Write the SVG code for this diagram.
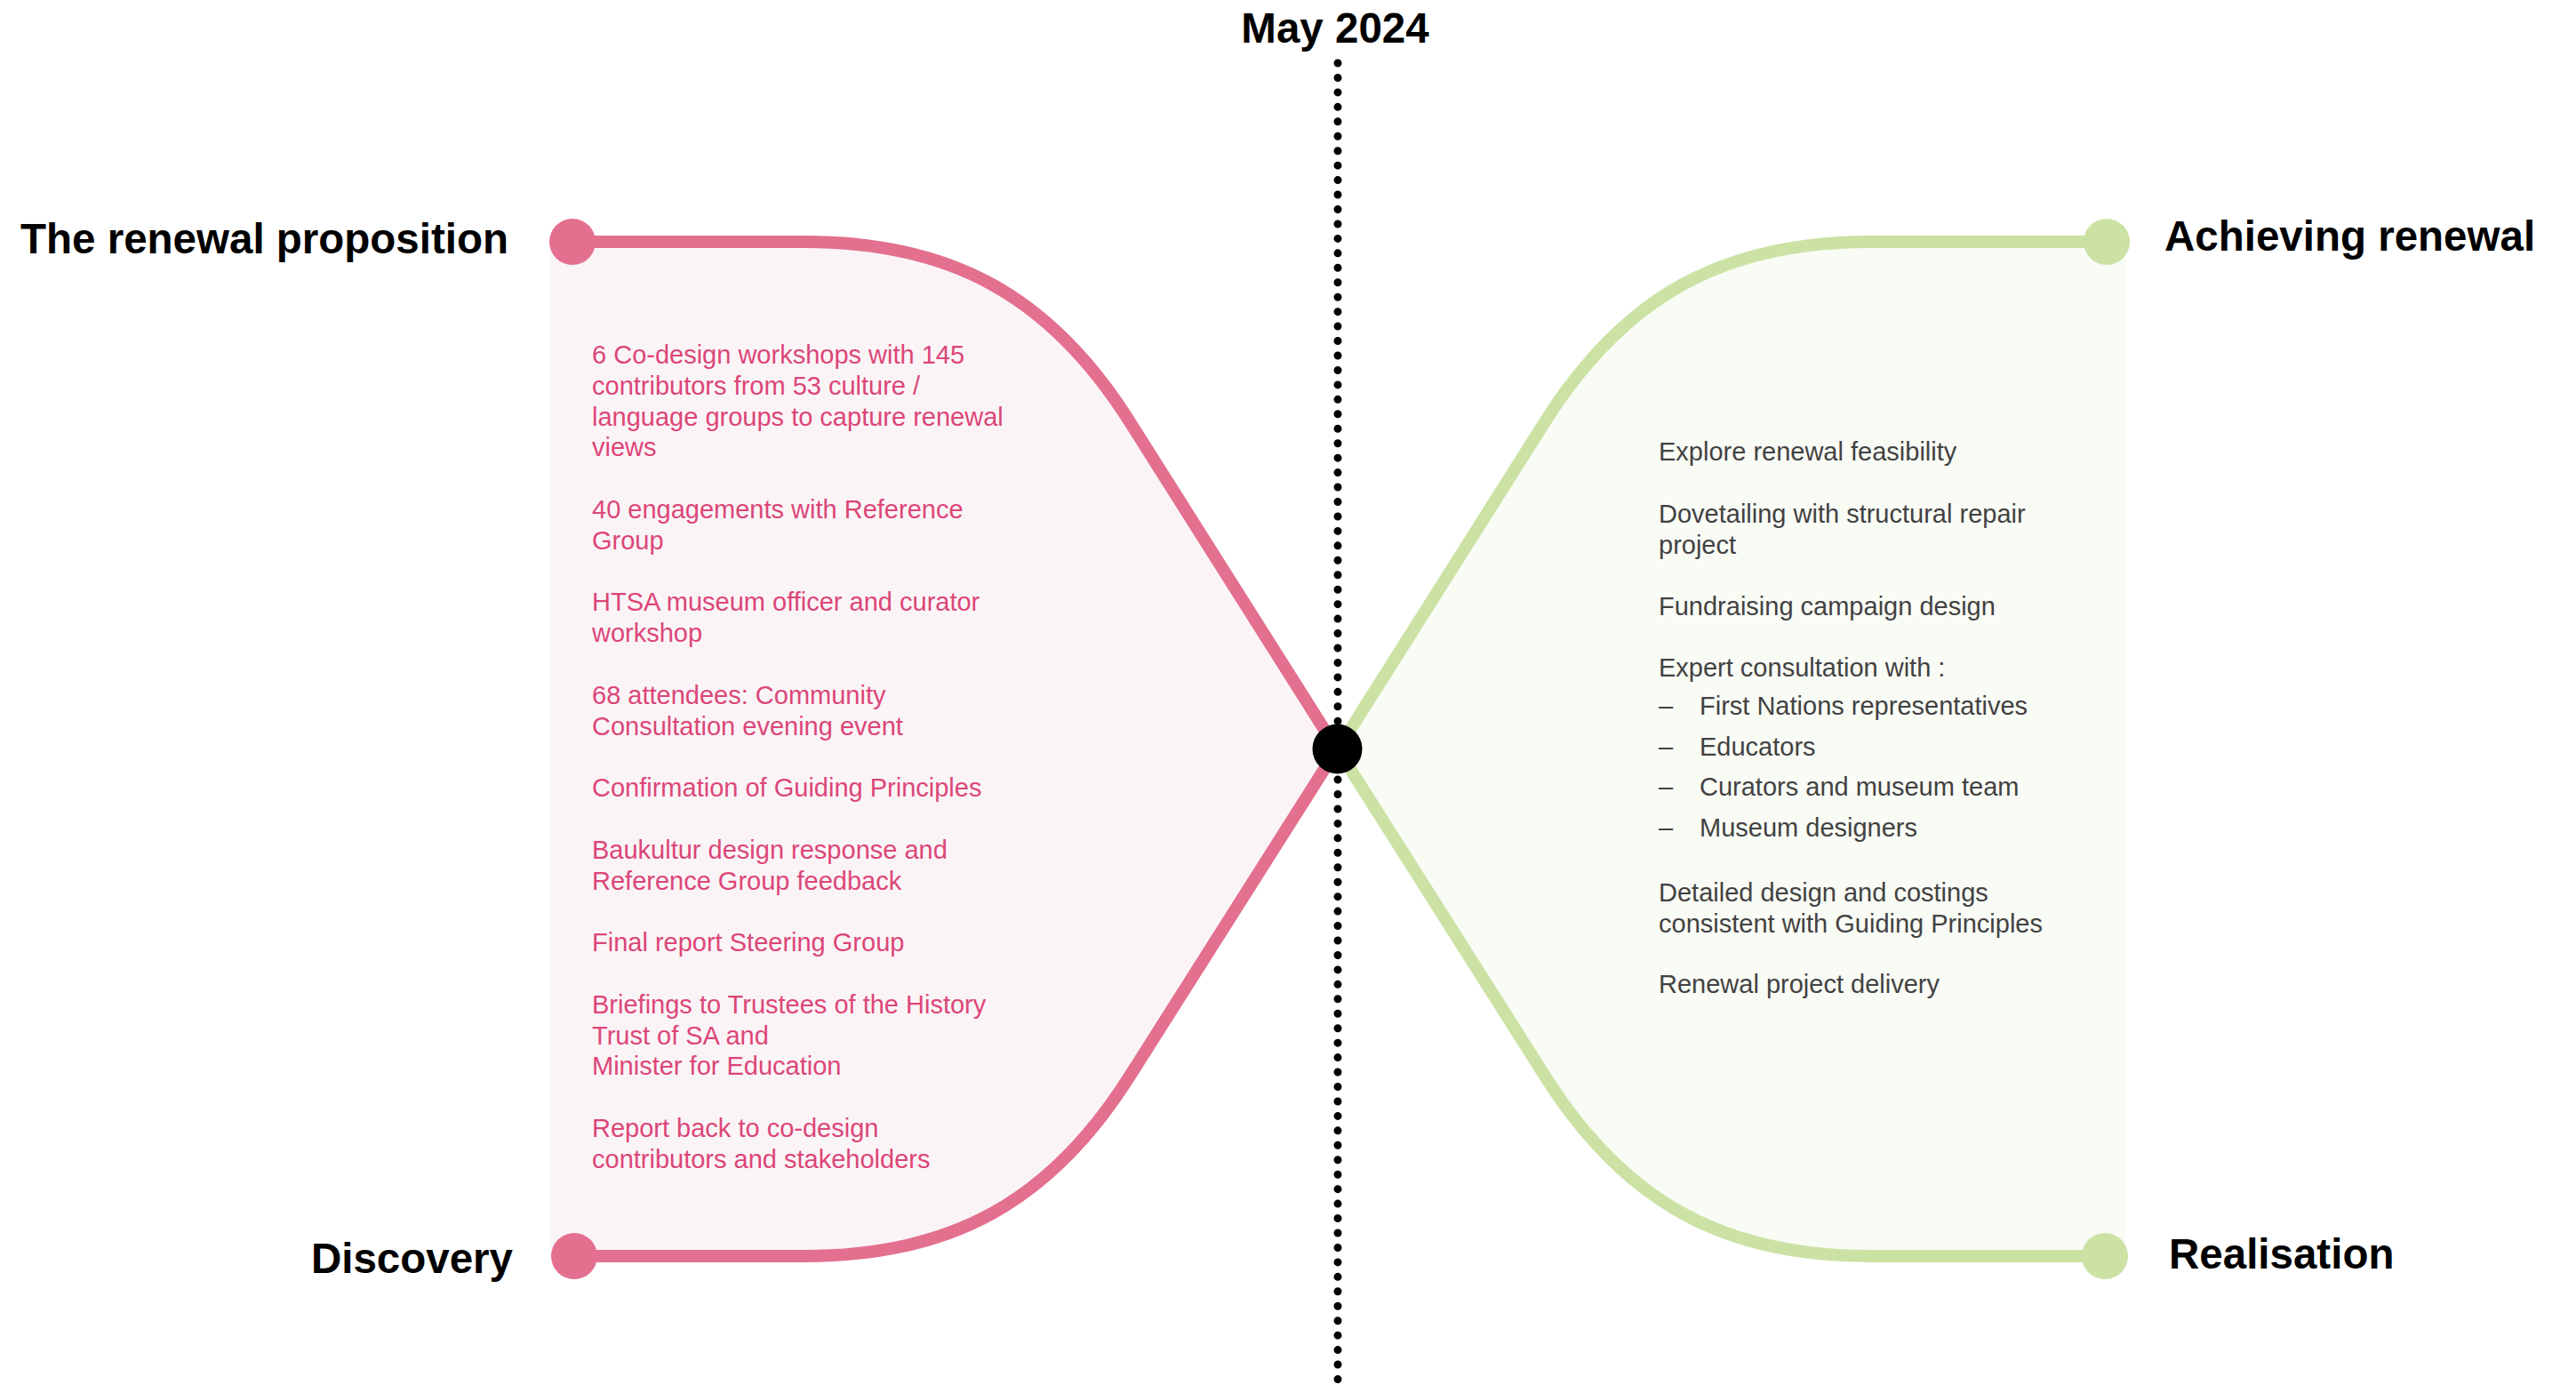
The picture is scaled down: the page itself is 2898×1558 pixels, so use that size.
<svg xmlns="http://www.w3.org/2000/svg" width="2898" height="1558" viewBox="0 0 2898 1558">
  <style>
    .label { font-family: "Liberation Sans", Arial, Helvetica, sans-serif; font-weight: bold; font-size: 47.5px; fill: #000; }
    .body { font-family: "Liberation Sans", Arial, Helvetica, sans-serif; font-size: 29px; }
    .pink-text { fill: #dc4677; }
    .grey-text { fill: #424242; }
    .pink-line { fill: none; stroke: #e3708f; stroke-width: 14; stroke-linejoin: round; }
    .green-line { fill: none; stroke: #cbe2a4; stroke-width: 14; stroke-linejoin: round; }
    .pink-dot { fill: #e3708f; }
    .green-dot { fill: #cbe2a4; }
  </style>

  <rect width="2898" height="1558" fill="#ffffff"/>

  <!-- shaded areas either side of the pivot -->
  <g id="areas">
    <path d="M 619 272 H 905 C 1070 272 1181 333 1270 473 L 1504 843 L 1270 1212 C 1181 1352 1070 1413 905 1413 H 619 Z" fill="#fbf4f7"/>
    <path d="M 2391 272 H 2104 C 1939 272 1828 333 1739 473 L 1505 843 L 1739 1212 C 1828 1352 1939 1413 2104 1413 H 2391 Z" fill="#f9fbf5"/>
  </g>

  <!-- timeline marker -->
  <g id="may-2024">
    <line x1="1505" y1="71" x2="1505" y2="1554" stroke="#000" stroke-width="9" stroke-linecap="round" stroke-dasharray="0 16.45"/>
    <text class="label" x="1502" y="48" text-anchor="middle">May 2024</text>
  </g>

  <!-- connectors -->
  <g id="connectors">
    <path class="pink-line" d="M 644 272 H 905 C 1070 272 1181 333 1270 473 L 1504 843 L 1270 1212 C 1181 1352 1070 1413 905 1413 H 646"/>
    <path class="green-line" d="M 2370 272 H 2104 C 1939 272 1828 333 1739 473 L 1505 843 L 1739 1212 C 1828 1352 1939 1413 2104 1413 H 2368"/>
  </g>

  <g id="renewal-proposition">
    <circle class="pink-dot" cx="644" cy="272" r="26"/>
    <text class="label" x="572" y="285" text-anchor="end">The renewal proposition</text>
  </g>

  <g id="discovery">
    <circle class="pink-dot" cx="646" cy="1413" r="26"/>
    <text class="label" x="577" y="1432" text-anchor="end">Discovery</text>
  </g>

  <g id="achieving-renewal">
    <circle class="green-dot" cx="2370" cy="272" r="26"/>
    <text class="label" x="2435" y="282">Achieving renewal</text>
  </g>

  <g id="realisation">
    <circle class="green-dot" cx="2368" cy="1413" r="26"/>
    <text class="label" x="2440" y="1427">Realisation</text>
  </g>

  <g id="pivot">
    <circle cx="1504.5" cy="842.5" r="28" fill="#000"/>
  </g>

  <!-- activities before the pivot -->
  <g id="discovery-activities">
    <text class="body pink-text">
      <tspan x="666" y="409">6 Co-design workshops with 145</tspan>
      <tspan x="666" y="443.8">contributors from 53 culture /</tspan>
      <tspan x="666" y="478.6">language groups to capture renewal</tspan>
      <tspan x="666" y="513.4">views</tspan>
      <tspan x="666" y="583">40 engagements with Reference</tspan>
      <tspan x="666" y="617.8">Group</tspan>
      <tspan x="666" y="687.4">HTSA museum officer and curator</tspan>
      <tspan x="666" y="722.2">workshop</tspan>
      <tspan x="666" y="791.8">68 attendees: Community</tspan>
      <tspan x="666" y="826.6">Consultation evening event</tspan>
      <tspan x="666" y="896.2">Confirmation of Guiding Principles</tspan>
      <tspan x="666" y="965.8">Baukultur design response and</tspan>
      <tspan x="666" y="1000.6">Reference Group feedback</tspan>
      <tspan x="666" y="1070.2">Final report Steering Group</tspan>
      <tspan x="666" y="1139.8">Briefings to Trustees of the History</tspan>
      <tspan x="666" y="1174.6">Trust of SA and</tspan>
      <tspan x="666" y="1209.4">Minister for Education</tspan>
      <tspan x="666" y="1279">Report back to co-design</tspan>
      <tspan x="666" y="1313.8">contributors and stakeholders</tspan>
    </text>
  </g>

  <!-- activities after the pivot -->
  <g id="realisation-activities">
    <text class="body grey-text">
      <tspan x="1866" y="518">Explore renewal feasibility</tspan>
      <tspan x="1866" y="588">Dovetailing with structural repair</tspan>
      <tspan x="1866" y="622.5">project</tspan>
      <tspan x="1866" y="692">Fundraising campaign design</tspan>
      <tspan x="1866" y="761">Expert consultation with :</tspan>
      <tspan x="1866" y="803.5">–</tspan><tspan x="1912" y="803.5">First Nations representatives</tspan>
      <tspan x="1866" y="849.5">–</tspan><tspan x="1912" y="849.5">Educators</tspan>
      <tspan x="1866" y="895">–</tspan><tspan x="1912" y="895">Curators and museum team</tspan>
      <tspan x="1866" y="940.5">–</tspan><tspan x="1912" y="940.5">Museum designers</tspan>
      <tspan x="1866" y="1014">Detailed design and costings</tspan>
      <tspan x="1866" y="1048.5">consistent with Guiding Principles</tspan>
      <tspan x="1866" y="1117">Renewal project delivery</tspan>
    </text>
  </g>
</svg>
